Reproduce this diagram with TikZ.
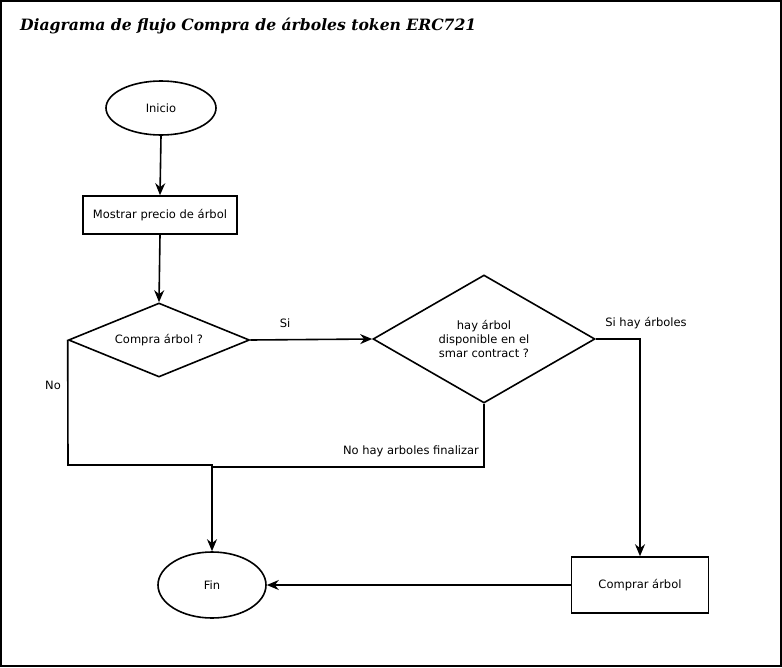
\documentclass[tikz,border=0pt]{standalone}
\usepackage{fontspec}
\setmainfont{DejaVu Sans}
\newfontfamily\titlefont{DejaVu Serif}
\usetikzlibrary{shapes.geometric, arrows.meta}

\begin{document}
\begin{tikzpicture}[x=1pt, y=-1pt, line width=1.6pt,
    font=\fontsize{11.5}{14}\selectfont,
    flecha/.style={-{Stealth[length=12pt, width=10pt]}},
    caja/.style={draw, rectangle, inner sep=0pt},
    elipse/.style={draw, ellipse, inner sep=0pt},
    rombo/.style={draw, diamond, inner sep=0pt, align=center}]
    % margins and frame
    \useasboundingbox (0,0) rectangle (782,667);
    \draw[line width=1.8pt] (1,1) rectangle (781,666);

    % title
    \node[anchor=west] (titulo) at (16,26) {\titlefont\fontsize{15.6}{18}\selectfont\bfseries\itshape Diagrama de flujo Compra de árboles token ERC721};

    % flow nodes
    \node[elipse, minimum width=110pt, minimum height=54pt] (inicio) at (161,108) {Inicio};
    \node[caja, minimum width=154pt, minimum height=38pt] (precio) at (160,215) {Mostrar precio de árbol};
    \node[rombo, shape aspect=2.45, minimum width=181pt, minimum height=74pt] (compra) at (159,340) {Compra árbol ?};
    \node[rombo, shape aspect=1.73, minimum width=222pt, minimum height=128pt] (hay) at (484,339) {hay árbol\\disponible en el\\smar contract ?};
    \node[caja, minimum width=137pt, minimum height=56pt] (comprar) at (640,585) {Comprar árbol};
    \node[elipse, minimum width=108pt, minimum height=66pt] (fin) at (212,585) {Fin};

    % branch labels
    \node (si) at (285,323) {Si};
    \node (sihay) at (646,323) {Si hay árboles};
    \node (no) at (53,385) {No};
    \node (nohay) at (411,451) {No hay arboles finalizar};

    % connectors
    \coordinate (esqno) at (68,465);
    \coordinate (juntano) at (212,467);
    \draw[flecha] (inicio.south) -- (precio.north);
    \draw[flecha] (precio.south) -- (compra.north);
    \draw[flecha] (compra.east) -- (hay.west);
    \draw[flecha] (hay.east) -| (comprar.north);
    \draw[flecha] (comprar.west) -- (fin.east);
    \draw[flecha] (compra.west) -- (esqno) -| (fin.north);
    \draw (hay.south) |- (juntano);
\end{tikzpicture}
\end{document}
